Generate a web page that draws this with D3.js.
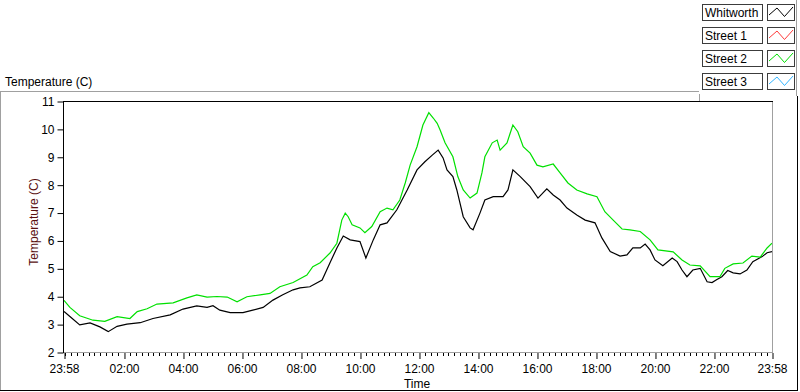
<!DOCTYPE html>
<html>
<head>
<meta charset="utf-8">
<script src="https://cdn.jsdelivr.net/npm/d3@7"></script>
<style>
  body { margin: 0; background: #fff; }
  svg { display: block; font-family: "Liberation Sans", Arial, sans-serif; }
</style>
</head>
<body>
<svg id="chart" width="800" height="392"></svg>
<script>
// legend entries (Street 1 and Street 3 have no samples in this plot)
const seriesNames = ['Whitworth', 'Street 1', 'Street 2', 'Street 3'];
const seriesColors = ['#000000', '#ff3b3b', '#00e000', '#33b5ff'];

// Whitworth
const whitworthTimes = ['23:58', '00:10', '00:30', '00:51', '01:11', '01:28', '01:46', '02:06', '02:33', '02:59',
  '03:34', '04:00', '04:28', '04:49', '05:01', '05:15', '05:36', '06:02', '06:22', '06:43',
  '07:03', '07:23', '07:44', '07:58', '08:18', '08:43', '08:59', '09:13', '09:26', '09:40',
  '10:00', '10:12', '10:27', '10:41', '10:55', '11:15', '11:36', '11:56', '12:12', '12:27',
  '12:39', '12:49', '12:57', '13:09', '13:17', '13:30', '13:44', '13:50', '14:04', '14:14',
  '14:31', '14:51', '15:01', '15:11', '15:26', '15:46', '16:02', '16:20', '16:33', '16:47',
  '17:01', '17:21', '17:38', '17:58', '18:12', '18:29', '18:49', '19:03', '19:15', '19:30',
  '19:40', '19:50', '20:00', '20:16', '20:35', '20:45', '20:55', '21:05', '21:17', '21:32',
  '21:46', '21:56', '22:06', '22:16', '22:28', '22:39', '22:53', '23:07', '23:19', '23:38',
  '23:48', '23:58'];
const whitworthTemps = [3.45, 3.27, 2.97, 3.04, 2.9, 2.73, 2.92, 3.0, 3.05, 3.2,
  3.33, 3.54, 3.65, 3.6, 3.66, 3.5, 3.41, 3.41, 3.5, 3.6,
  3.86, 4.05, 4.23, 4.3, 4.34, 4.58, 5.2, 5.73, 6.16, 6.02,
  5.96, 5.37, 6.02, 6.56, 6.63, 7.1, 7.81, 8.53, 8.82, 9.06,
  9.24, 8.96, 8.53, 8.29, 7.81, 6.85, 6.45, 6.38, 6.98, 7.45,
  7.57, 7.57, 7.81, 8.53, 8.29, 7.93, 7.52, 7.85, 7.63, 7.45,
  7.16, 6.91, 6.73, 6.63, 6.09, 5.6, 5.44, 5.48, 5.73, 5.73,
  5.87, 5.66, 5.3, 5.09, 5.37, 5.24, 4.94, 4.7, 4.94, 5.0,
  4.52, 4.49, 4.6, 4.7, 4.92, 4.84, 4.8, 4.94, 5.24, 5.42,
  5.56, 5.6];

// Street 2
const street2Times = ['23:58', '00:10', '00:30', '00:57', '01:21', '01:46', '02:12', '02:27', '02:47', '03:07',
  '03:40', '04:08', '04:28', '04:49', '05:09', '05:30', '05:50', '06:10', '06:37', '06:57',
  '07:17', '07:44', '08:12', '08:24', '08:39', '08:59', '09:13', '09:23', '09:30', '09:36',
  '09:44', '10:00', '10:10', '10:24', '10:41', '10:55', '11:07', '11:21', '11:32', '11:42',
  '11:56', '12:08', '12:20', '12:29', '12:37', '12:43', '12:53', '13:09', '13:19', '13:30',
  '13:44', '13:58', '14:08', '14:14', '14:29', '14:39', '14:45', '14:59', '15:11', '15:21',
  '15:32', '15:46', '16:00', '16:12', '16:33', '16:47', '17:03', '17:21', '17:42', '18:02',
  '18:18', '18:35', '18:53', '19:09', '19:30', '19:50', '20:06', '20:37', '20:55', '21:11',
  '21:32', '21:52', '22:12', '22:22', '22:39', '22:59', '23:17', '23:34', '23:48', '23:58'];
const street2Temps = [3.85, 3.6, 3.3, 3.14, 3.1, 3.27, 3.2, 3.45, 3.55, 3.72,
  3.76, 3.94, 4.05, 3.97, 3.99, 3.97, 3.8, 3.98, 4.05, 4.1,
  4.34, 4.49, 4.76, 5.06, 5.2, 5.55, 5.9, 6.73, 6.98, 6.85,
  6.56, 6.45, 6.28, 6.5, 7.03, 7.16, 7.1, 7.45, 8.06, 8.7,
  9.36, 10.14, 10.58, 10.39, 10.2, 9.96, 9.5, 9.0, 8.29, 7.81,
  7.52, 7.7, 8.42, 9.0, 9.5, 9.6, 9.24, 9.5, 10.14, 9.9,
  9.36, 9.13, 8.7, 8.64, 8.74, 8.42, 8.06, 7.81, 7.67, 7.57,
  7.03, 6.73, 6.41, 6.38, 6.32, 6.02, 5.66, 5.59, 5.3, 5.12,
  5.09, 4.7, 4.7, 5.0, 5.16, 5.19, 5.44, 5.4, 5.73, 5.9];

const yTicks = [2, 3, 4, 5, 6, 7, 8, 9, 10, 11];
const xTickLabels = ['23:58', '02:00', '04:00', '06:00', '08:00', '10:00', '12:00',
  '14:00', '16:00', '18:00', '20:00', '22:00', '23:58'];

// first 23:58 belongs to the previous day, everything else to the day shown
function toDate(s, i) {
  const [h, m] = s.split(':').map(Number);
  return i === 0 ? new Date(2000, 0, 1, h, m) : new Date(2000, 0, 2, h, m);
}

const svg = d3.select('#chart');
const plotLeft = 64, plotRight = 772, plotTop = 101, plotBottom = 352;

const tickDates = xTickLabels.map(toDate);
const x = d3.scaleTime().domain([tickDates[0], tickDates[tickDates.length - 1]]).range([plotLeft, plotRight]);
const y = d3.scaleLinear().domain([2, 11]).range([plotBottom, plotTop]);

const gray = '#a0a0a0';

// outer panel frame
svg.append('line').attr('x1', 0).attr('x2', 699).attr('y1', 91.5).attr('y2', 91.5).attr('stroke', gray);
svg.append('line').attr('x1', 699.5).attr('x2', 699.5).attr('y1', 94).attr('y2', 101).attr('stroke', gray);
svg.append('line').attr('x1', 0.5).attr('x2', 0.5).attr('y1', 91).attr('y2', 391).attr('stroke', gray);
svg.append('line').attr('x1', 0).attr('x2', 798).attr('y1', 390.5).attr('y2', 390.5).attr('stroke', '#000');
svg.append('line').attr('x1', 797.5).attr('x2', 797.5).attr('y1', 96).attr('y2', 391).attr('stroke', '#000');
svg.append('line').attr('x1', 796.5).attr('x2', 796.5).attr('y1', 0).attr('y2', 96).attr('stroke', gray);

svg.append('text').attr('x', 5).attr('y', 86).attr('font-size', 12).attr('fill', '#000')
    .text('Temperature (C)');

// plot frame: dark top/left, grey bottom/right
svg.append('line').attr('x1', 63.5).attr('x2', 773).attr('y1', 101.5).attr('y2', 101.5).attr('stroke', '#000');
svg.append('line').attr('x1', 63.5).attr('x2', 63.5).attr('y1', 101).attr('y2', 353).attr('stroke', '#000');
svg.append('line').attr('x1', 772.5).attr('x2', 772.5).attr('y1', 102).attr('y2', 353).attr('stroke', gray);
svg.append('line').attr('x1', 64).attr('x2', 773).attr('y1', 352.5).attr('y2', 352.5).attr('stroke', gray);

// y axis
const yAxis = svg.append('g')
    .attr('transform', 'translate(63.5,0.5)')
    .call(d3.axisLeft(y).tickValues(yTicks).tickSize(6).tickPadding(3).tickFormat(d3.format('d')));
yAxis.select('.domain').remove();
yAxis.selectAll('text').attr('font-size', 12).attr('fill', '#000').attr('font-family', null);

// x axis minor ticks every 12 minutes
const minor = d3.timeMinute.every(12).range(tickDates[0], tickDates[tickDates.length - 1])
    .filter(d => !tickDates.some(t => +t === +d));
svg.append('g').selectAll('line').data(minor).enter().append('line')
    .attr('x1', d => Math.round(x(d)) + 0.5).attr('x2', d => Math.round(x(d)) + 0.5)
    .attr('y1', 353).attr('y2', 356).attr('stroke', '#000');

const xAxis = svg.append('g')
    .attr('transform', 'translate(0,353)')
    .call(d3.axisBottom(x).tickValues(tickDates).tickSize(6).tickPadding(5)
        .tickFormat((d, i) => xTickLabels[i]));
xAxis.select('.domain').remove();
xAxis.selectAll('.tick line').attr('transform', 'translate(0.5,0)');
xAxis.selectAll('text').attr('font-size', 12).attr('fill', '#000').attr('font-family', null);

svg.append('text').attr('x', 417).attr('y', 388).attr('text-anchor', 'middle')
    .attr('font-size', 12).attr('fill', '#000').text('Time');
svg.append('text').attr('transform', 'translate(37.5,222) rotate(-90)').attr('text-anchor', 'middle')
    .attr('font-size', 12).attr('fill', '#5a1010').text('Temperature (C)');

// data lines
svg.append('clipPath').attr('id', 'plot-clip').append('rect')
    .attr('x', 64).attr('y', 102).attr('width', 708).attr('height', 250);

const line = d3.line().x(d => x(d.t)).y(d => y(d.v));
const plotSeries = [
  {color: seriesColors[0], data: whitworthTimes.map((t, i) => ({t: toDate(t, i), v: whitworthTemps[i]}))},
  {color: seriesColors[2], data: street2Times.map((t, i) => ({t: toDate(t, i), v: street2Temps[i]}))},
];
svg.append('g').attr('clip-path', 'url(#plot-clip)')
    .selectAll('path').data(plotSeries).enter().append('path')
    .attr('d', d => line(d.data))
    .attr('fill', 'none')
    .attr('stroke', d => d.color)
    .attr('stroke-width', 1.2);

// legend
const legend = svg.append('g').selectAll('g').data(seriesNames).enter().append('g')
    .attr('transform', (d, i) => 'translate(0,' + (i * 23) + ')');
legend.append('rect').attr('x', 702.5).attr('y', 4.5).attr('width', 60).attr('height', 16)
    .attr('fill', '#fff').attr('stroke', '#3c3c3c');
legend.append('text').attr('x', 705).attr('y', 17).attr('font-size', 12).attr('fill', '#000').text(d => d);
legend.append('rect').attr('x', 767.5).attr('y', 4.5).attr('width', 27).attr('height', 16)
    .attr('fill', '#fff').attr('stroke', '#3c3c3c');
legend.append('path')
    .attr('d', 'M769,15 L777,8 L784.5,16.5 L793,7')
    .attr('fill', 'none')
    .attr('stroke', (d, i) => seriesColors[i]);
</script>
</body>
</html>
